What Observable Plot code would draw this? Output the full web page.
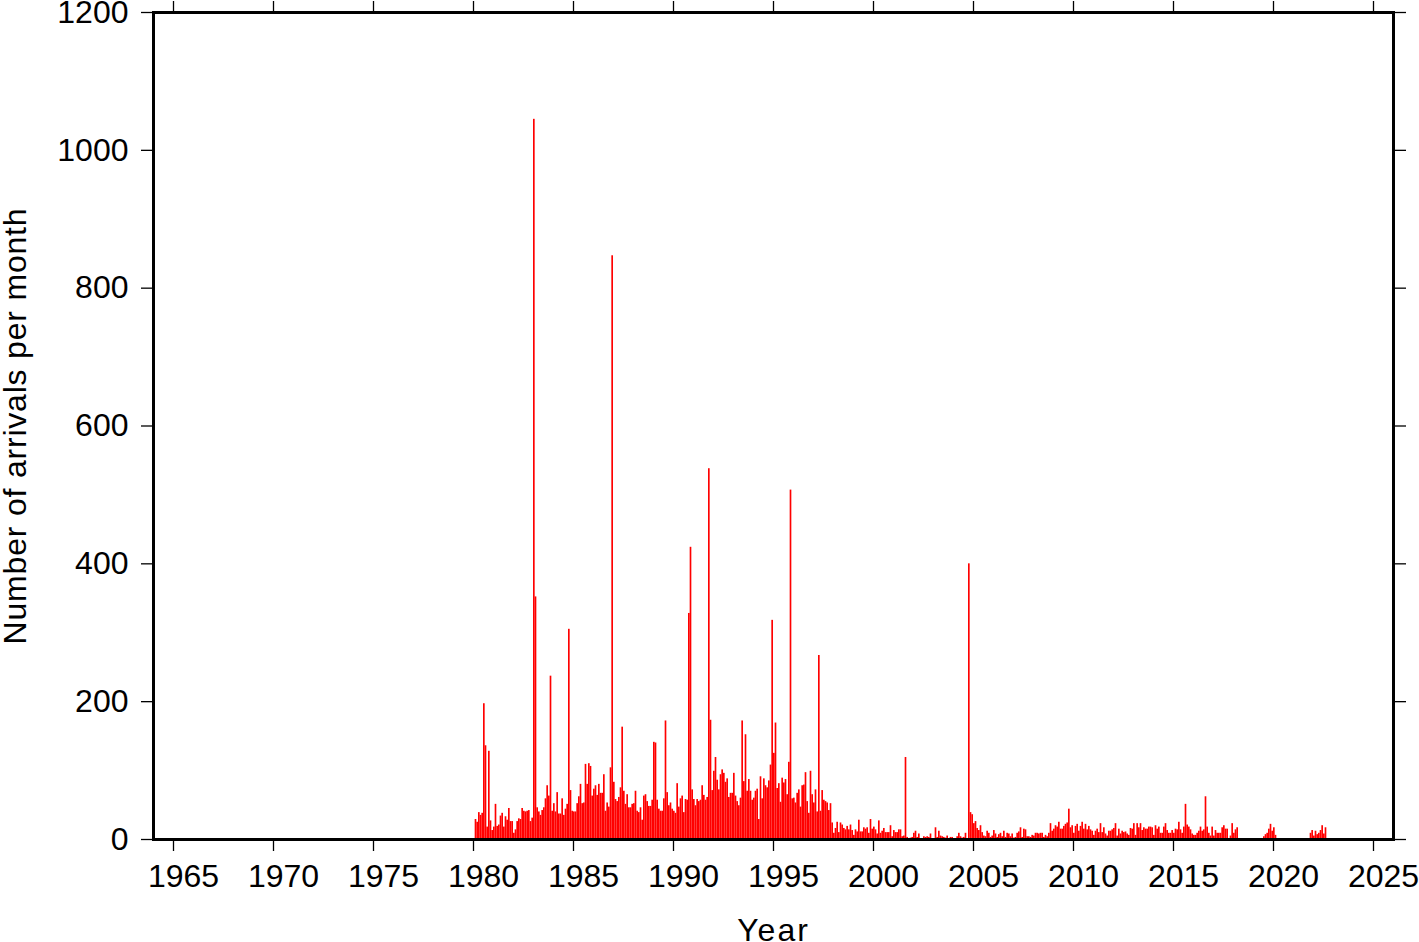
<!DOCTYPE html>
<html>
<head>
<meta charset="utf-8">
<script src="https://cdn.jsdelivr.net/npm/d3@7"></script>
<script src="https://cdn.jsdelivr.net/npm/@observablehq/plot@0.6"></script>
<style>
  html, body { margin: 0; padding: 0; background: #fff; }
  svg { display: block; }
</style>
</head>
<body>
<div id="chart"></div>
<script>
// Monthly number of arrivals (Jan..Dec) per year
const y1980 = [0, 29, 25, 39, 35, 38, 197, 136, 18, 128, 27, 13];
const y1981 = [18, 51, 19, 21, 34, 38, 18, 33, 28, 45, 26, 26];
const y1982 = [9, 14, 26, 30, 29, 45, 41, 40, 41, 42, 26, 31];
const y1983 = [1045, 352, 46, 40, 35, 42, 46, 59, 78, 63, 237, 41];
const y1984 = [52, 40, 68, 37, 37, 59, 35, 44, 51, 305, 71, 41];
const y1985 = [40, 40, 52, 62, 80, 52, 53, 109, 80, 110, 106, 63];
const y1986 = [73, 78, 64, 80, 67, 67, 94, 41, 53, 47, 104, 847];
const y1987 = [83, 58, 55, 61, 75, 163, 70, 51, 65, 46, 46, 51];
const y1988 = [52, 70, 41, 39, 46, 28, 63, 65, 55, 48, 48, 57];
const y1989 = [141, 140, 57, 44, 41, 41, 59, 172, 68, 49, 53, 44];
const y1990 = [41, 38, 81, 47, 59, 63, 39, 58, 57, 328, 424, 72];
const y1991 = [58, 49, 58, 55, 57, 78, 64, 57, 61, 538, 173, 71];
const y1992 = [99, 119, 86, 72, 94, 101, 96, 83, 88, 61, 67, 67];
const y1993 = [96, 63, 55, 49, 60, 172, 84, 152, 70, 87, 70, 57];
const y1994 = [60, 70, 73, 29, 91, 59, 88, 78, 75, 85, 108, 318];
const y1995 = [125, 169, 74, 81, 54, 89, 82, 87, 65, 112, 507, 59];
const y1996 = [60, 53, 67, 72, 47, 78, 79, 97, 55, 38, 99, 65];
const y1997 = [53, 72, 40, 267, 41, 71, 57, 55, 53, 42, 52, 24];
const y1998 = [9, 16, 25, 10, 24, 21, 16, 14, 19, 14, 21, 13];
const y1999 = [6, 14, 11, 28, 11, 11, 17, 15, 17, 9, 29, 15];
const y2000 = [18, 14, 8, 27, 9, 12, 16, 10, 10, 10, 20, 4];
const y2001 = [13, 10, 10, 14, 14, 4, 5, 119, 3, 0, 2, 3];
const y2002 = [9, 12, 3, 8, 1, 0, 4, 3, 4, 3, 8, 0];
const y2003 = [1, 17, 3, 12, 5, 4, 3, 2, 5, 1, 3, 3];
const y2004 = [1, 1, 4, 9, 4, 2, 3, 9, 0, 400, 39, 36];
const y2005 = [23, 26, 16, 13, 20, 10, 5, 4, 12, 9, 3, 5];
const y2006 = [13, 8, 3, 7, 9, 4, 12, 3, 9, 8, 4, 8];
const y2007 = [2, 3, 9, 11, 17, 3, 15, 14, 4, 4, 3, 6];
const y2008 = [5, 9, 9, 8, 9, 9, 3, 6, 4, 9, 23, 12];
const y2009 = [15, 20, 18, 25, 15, 15, 19, 22, 24, 44, 17, 20];
const y2010 = [9, 19, 22, 12, 19, 25, 15, 22, 14, 19, 14, 12];
const y2011 = [6, 12, 15, 10, 23, 10, 17, 8, 5, 12, 12, 14];
const y2012 = [16, 23, 5, 15, 8, 12, 10, 11, 8, 6, 16, 15];
const y2013 = [23, 6, 23, 17, 23, 13, 17, 15, 15, 18, 18, 17];
const y2014 = [6, 20, 15, 18, 9, 9, 18, 23, 13, 9, 9, 13];
const y2015 = [9, 15, 14, 25, 14, 9, 18, 51, 21, 18, 14, 8];
const y2016 = [6, 6, 9, 12, 18, 12, 14, 62, 18, 9, 5, 18];
const y2017 = [5, 13, 9, 9, 9, 17, 20, 15, 15, 0, 5, 23];
const y2018 = [9, 14, 17, 0, 0, 0, 0, 0, 0, 0, 0, 0];
const y2019 = [0, 0, 0, 0, 0, 0, 4, 7, 9, 15, 22, 12];
const y2020 = [17, 6, 0, 0, 0, 0, 0, 0, 0, 0, 0, 0];
const y2021 = [0, 0, 0, 0, 0, 0, 0, 0, 0, 0, 9, 13];
const y2022 = [5, 12, 7, 9, 13, 20, 8, 17];

const years = [1980, 1981, 1982, 1983, 1984, 1985, 1986, 1987, 1988, 1989,
  1990, 1991, 1992, 1993, 1994, 1995, 1996, 1997, 1998, 1999,
  2000, 2001, 2002, 2003, 2004, 2005, 2006, 2007, 2008, 2009,
  2010, 2011, 2012, 2013, 2014, 2015, 2016, 2017, 2018, 2019,
  2020, 2021, 2022];
const monthly = [y1980, y1981, y1982, y1983, y1984, y1985, y1986, y1987, y1988, y1989,
  y1990, y1991, y1992, y1993, y1994, y1995, y1996, y1997, y1998, y1999,
  y2000, y2001, y2002, y2003, y2004, y2005, y2006, y2007, y2008, y2009,
  y2010, y2011, y2012, y2013, y2014, y2015, y2016, y2017, y2018, y2019,
  y2020, y2021, y2022];

const xTicks = [1965, 1970, 1975, 1980, 1985, 1990, 1995, 2000, 2005, 2010, 2015, 2020, 2025];
const yTicks = [0, 200, 400, 600, 800, 1000, 1200];
const xDomain = [1964, 2026];
const yDomain = [0, 1200];
const xTitle = "Year";
const yTitle = "Number of arrivals per month";

const rows = [];
years.forEach((yr, i) => {
  monthly[i].forEach((v, m) => {
    if (v > 0) rows.push({t0: yr + m / 12, t1: yr + (m + 1) / 12, v});
  });
});

const font = "'Liberation Sans', Arial, Helvetica, sans-serif";

const chart = Plot.plot({
  width: 1419,
  height: 942,
  marginLeft: 153,
  marginRight: 26,
  marginTop: 12,
  marginBottom: 103,
  style: {background: "white", fontFamily: font, fontSize: "32px", color: "black"},
  x: {domain: xDomain},
  y: {domain: yDomain},
  marks: [
    Plot.rectY(rows, {x1: "t0", x2: "t1", y: "v", fill: "#ff0000"}),
    // bottom ticks
    Plot.axisX({anchor: "bottom", ticks: xTicks, tickSize: 12, strokeWidth: 1.3,
      tickFormat: () => "", label: null}),
    // bottom labels (slightly offset to the right as in the reference)
    Plot.axisX({anchor: "bottom", ticks: xTicks, tickSize: 0, tickPadding: 25, dx: 10,
      tickFormat: d => String(d), fontSize: 32, label: null}),
    Plot.axisX({anchor: "top", ticks: xTicks, tickSize: 12, strokeWidth: 1.3,
      tickFormat: () => "", label: null}),
    Plot.axisY({anchor: "left", ticks: yTicks, tickSize: 12, tickPadding: 13, strokeWidth: 1.3,
      tickFormat: d => String(d), fontSize: 32, label: null}),
    Plot.axisY({anchor: "right", ticks: yTicks, tickSize: 12, strokeWidth: 1.3,
      tickFormat: () => "", label: null}),
    Plot.frame({stroke: "black", strokeWidth: 3}),
    Plot.text([xTitle], {frameAnchor: "bottom", text: d => d, dy: 101, lineAnchor: "bottom",
      textAnchor: "middle", fontSize: 32, fill: "black"}),
    Plot.text([yTitle], {frameAnchor: "left", text: d => d, dx: -128, rotate: -90, lineAnchor: "bottom",
      textAnchor: "middle", fontSize: 32, fill: "black"})
  ]
});
// slightly wider letter spacing for the axis titles, as in the reference
d3.select(chart).selectAll("text")
  .filter(function() { return this.textContent === xTitle; })
  .attr("letter-spacing", "2px");
d3.select(chart).selectAll("text")
  .filter(function() { return this.textContent === yTitle; })
  .attr("letter-spacing", "0.8px");
document.getElementById("chart").appendChild(chart);
</script>
</body>
</html>
